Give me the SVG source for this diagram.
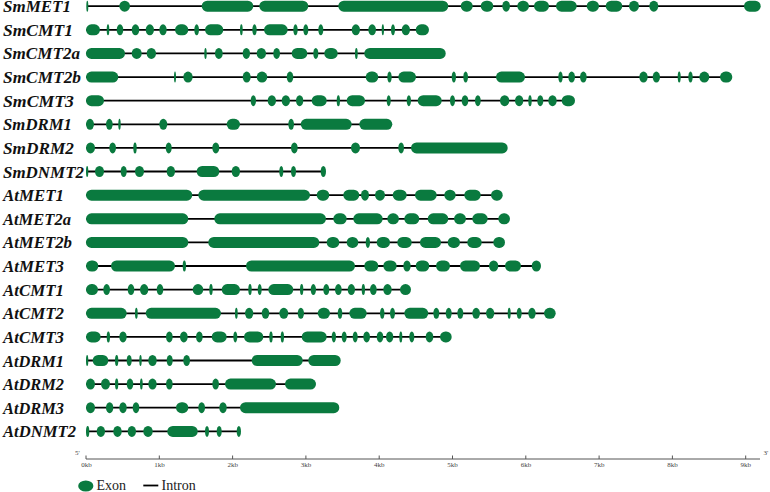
<svg xmlns="http://www.w3.org/2000/svg" width="770" height="492" viewBox="0 0 770 492">
<style>
.lab{font-family:"Liberation Serif","Times New Roman",serif;font-weight:bold;font-style:italic;font-size:17px;fill:#111}
.e{fill:#0a7a3f;rx:5.5px;ry:5.5px}
.in{stroke:#000;stroke-width:1.8;fill:none}
.ax{stroke:#555;stroke-width:1;fill:none}
.tk{font-family:"Liberation Serif","Times New Roman",serif;font-size:7px;fill:#444;text-anchor:middle}
.lg{font-family:"Liberation Serif","Times New Roman",serif;font-size:14px;fill:#222}
</style>
<rect width="770" height="492" fill="#fff"/>
<g id="introns">
<line class="in" x1="87" y1="6.2" x2="760" y2="6.2"/>
<line class="in" x1="86" y1="29.8" x2="428" y2="29.8"/>
<line class="in" x1="86" y1="53.4" x2="445" y2="53.4"/>
<line class="in" x1="86" y1="77.1" x2="731" y2="77.1"/>
<line class="in" x1="86" y1="100.7" x2="574" y2="100.7"/>
<line class="in" x1="86" y1="124.3" x2="391" y2="124.3"/>
<line class="in" x1="86" y1="147.9" x2="507" y2="147.9"/>
<line class="in" x1="86" y1="171.5" x2="325" y2="171.5"/>
<line class="in" x1="86" y1="195.2" x2="502" y2="195.2"/>
<line class="in" x1="86" y1="218.8" x2="509" y2="218.8"/>
<line class="in" x1="86" y1="242.4" x2="504" y2="242.4"/>
<line class="in" x1="86" y1="266" x2="540" y2="266"/>
<line class="in" x1="86" y1="289.6" x2="410" y2="289.6"/>
<line class="in" x1="86" y1="313.3" x2="555" y2="313.3"/>
<line class="in" x1="86" y1="336.9" x2="451" y2="336.9"/>
<line class="in" x1="86" y1="360.5" x2="340" y2="360.5"/>
<line class="in" x1="86" y1="384.1" x2="315" y2="384.1"/>
<line class="in" x1="86" y1="407.7" x2="339" y2="407.7"/>
<line class="in" x1="86" y1="431.4" x2="240" y2="431.4"/>
</g>
<g id="SmMET1" transform="translate(0,6.2)">
<text class="lab" x="3" y="6" textLength="68" lengthAdjust="spacingAndGlyphs">SmMET1</text>
<rect class="e" x="86.3" y="-5.5" width="2" height="11"/><rect class="e" x="119.3" y="-5.5" width="10.7" height="11"/><rect class="e" x="201.7" y="-5.5" width="51.6" height="11"/><rect class="e" x="259.3" y="-5.5" width="49" height="11"/><rect class="e" x="338.3" y="-5.5" width="110" height="11"/><rect class="e" x="460.7" y="-5.5" width="12" height="11"/><rect class="e" x="480.7" y="-5.5" width="12.6" height="11"/><rect class="e" x="502.3" y="-5.5" width="7.7" height="11"/><rect class="e" x="517.3" y="-5.5" width="11.7" height="11"/><rect class="e" x="534" y="-5.5" width="15" height="11"/><rect class="e" x="556" y="-5.5" width="20.7" height="11"/><rect class="e" x="586.7" y="-5.5" width="12.3" height="11"/><rect class="e" x="605.7" y="-5.5" width="16.6" height="11"/><rect class="e" x="629" y="-5.5" width="10" height="11"/><rect class="e" x="649.3" y="-5.5" width="9" height="11"/><rect class="e" x="744" y="-5.5" width="16.7" height="11"/>
</g>
<g id="SmCMT1" transform="translate(0,29.8)">
<text class="lab" x="3" y="6" textLength="70" lengthAdjust="spacingAndGlyphs">SmCMT1</text>
<rect class="e" x="86" y="-5.5" width="14" height="11"/><rect class="e" x="106.7" y="-5.5" width="2.6" height="11"/><rect class="e" x="116.7" y="-5.5" width="6.6" height="11"/><rect class="e" x="131.7" y="-5.5" width="7.6" height="11"/><rect class="e" x="145.7" y="-5.5" width="8.3" height="11"/><rect class="e" x="159.3" y="-5.5" width="7.4" height="11"/><rect class="e" x="175" y="-5.5" width="13.3" height="11"/><rect class="e" x="194.3" y="-5.5" width="4.7" height="11"/><rect class="e" x="205" y="-5.5" width="18.3" height="11"/><rect class="e" x="240" y="-5.5" width="2.7" height="11"/><rect class="e" x="252.3" y="-5.5" width="4.4" height="11"/><rect class="e" x="264" y="-5.5" width="23.7" height="11"/><rect class="e" x="293.3" y="-5.5" width="4.4" height="11"/><rect class="e" x="303.3" y="-5.5" width="5" height="11"/><rect class="e" x="318.3" y="-5.5" width="5" height="11"/><rect class="e" x="351.7" y="-5.5" width="8.3" height="11"/><rect class="e" x="368.3" y="-5.5" width="7.7" height="11"/><rect class="e" x="381.7" y="-5.5" width="2.3" height="11"/><rect class="e" x="391" y="-5.5" width="4" height="11"/><rect class="e" x="401.7" y="-5.5" width="8.3" height="11"/><rect class="e" x="415.7" y="-5.5" width="13.3" height="11"/>
</g>
<g id="SmCMT2a" transform="translate(0,53.4)">
<text class="lab" x="3" y="6" textLength="77" lengthAdjust="spacingAndGlyphs">SmCMT2a</text>
<rect class="e" x="86" y="-5.5" width="39" height="11"/><rect class="e" x="131.7" y="-5.5" width="10" height="11"/><rect class="e" x="146.7" y="-5.5" width="9.3" height="11"/><rect class="e" x="204.3" y="-5.5" width="2.4" height="11"/><rect class="e" x="215" y="-5.5" width="7.7" height="11"/><rect class="e" x="242.7" y="-5.5" width="7.3" height="11"/><rect class="e" x="256.7" y="-5.5" width="9.3" height="11"/><rect class="e" x="273.3" y="-5.5" width="6.7" height="11"/><rect class="e" x="291.7" y="-5.5" width="15.6" height="11"/><rect class="e" x="313.3" y="-5.5" width="5" height="11"/><rect class="e" x="324.3" y="-5.5" width="13.4" height="11"/><rect class="e" x="355" y="-5.5" width="2.7" height="11"/><rect class="e" x="364.3" y="-5.5" width="81.4" height="11"/>
</g>
<g id="SmCMT2b" transform="translate(0,77.1)">
<text class="lab" x="3" y="6" textLength="78" lengthAdjust="spacingAndGlyphs">SmCMT2b</text>
<rect class="e" x="86" y="-5.5" width="32.3" height="11"/><rect class="e" x="174" y="-5.5" width="2" height="11"/><rect class="e" x="183.3" y="-5.5" width="9.4" height="11"/><rect class="e" x="242.7" y="-5.5" width="8" height="11"/><rect class="e" x="256.7" y="-5.5" width="10.6" height="11"/><rect class="e" x="286.7" y="-5.5" width="6.6" height="11"/><rect class="e" x="365.7" y="-5.5" width="12.6" height="11"/><rect class="e" x="387.3" y="-5.5" width="4.4" height="11"/><rect class="e" x="398.3" y="-5.5" width="17.7" height="11"/><rect class="e" x="451.7" y="-5.5" width="4.3" height="11"/><rect class="e" x="463.3" y="-5.5" width="4.7" height="11"/><rect class="e" x="496" y="-5.5" width="29" height="11"/><rect class="e" x="558.3" y="-5.5" width="4.4" height="11"/><rect class="e" x="568.3" y="-5.5" width="6.7" height="11"/><rect class="e" x="580" y="-5.5" width="6.7" height="11"/><rect class="e" x="639.3" y="-5.5" width="8.4" height="11"/><rect class="e" x="652.7" y="-5.5" width="7.3" height="11"/><rect class="e" x="677.7" y="-5.5" width="3" height="11"/><rect class="e" x="688.3" y="-5.5" width="4.4" height="11"/><rect class="e" x="699.3" y="-5.5" width="10" height="11"/><rect class="e" x="720" y="-5.5" width="12.3" height="11"/>
</g>
<g id="SmCMT3" transform="translate(0,100.7)">
<text class="lab" x="3" y="6" textLength="71" lengthAdjust="spacingAndGlyphs">SmCMT3</text>
<rect class="e" x="86" y="-5.5" width="18" height="11"/><rect class="e" x="250.7" y="-5.5" width="5.3" height="11"/><rect class="e" x="267.7" y="-5.5" width="8.3" height="11"/><rect class="e" x="281.7" y="-5.5" width="8.3" height="11"/><rect class="e" x="296" y="-5.5" width="7.3" height="11"/><rect class="e" x="311.7" y="-5.5" width="15" height="11"/><rect class="e" x="336.7" y="-5.5" width="3.3" height="11"/><rect class="e" x="346.7" y="-5.5" width="18.3" height="11"/><rect class="e" x="386.7" y="-5.5" width="4" height="11"/><rect class="e" x="406.7" y="-5.5" width="4.3" height="11"/><rect class="e" x="417.7" y="-5.5" width="24" height="11"/><rect class="e" x="450" y="-5.5" width="5" height="11"/><rect class="e" x="461.7" y="-5.5" width="6.6" height="11"/><rect class="e" x="475" y="-5.5" width="5.7" height="11"/><rect class="e" x="500" y="-5.5" width="9.3" height="11"/><rect class="e" x="515" y="-5.5" width="8.3" height="11"/><rect class="e" x="528.3" y="-5.5" width="3.4" height="11"/><rect class="e" x="537.3" y="-5.5" width="6" height="11"/><rect class="e" x="548.3" y="-5.5" width="8.4" height="11"/><rect class="e" x="561.7" y="-5.5" width="13.3" height="11"/>
</g>
<g id="SmDRM1" transform="translate(0,124.3)">
<text class="lab" x="3" y="6" textLength="69" lengthAdjust="spacingAndGlyphs">SmDRM1</text>
<rect class="e" x="86" y="-5.5" width="8" height="11"/><rect class="e" x="106" y="-5.5" width="6.7" height="11"/><rect class="e" x="118.3" y="-5.5" width="2.4" height="11"/><rect class="e" x="159.3" y="-5.5" width="8" height="11"/><rect class="e" x="226.7" y="-5.5" width="13.3" height="11"/><rect class="e" x="288.3" y="-5.5" width="5.7" height="11"/><rect class="e" x="300.7" y="-5.5" width="51" height="11"/><rect class="e" x="359.3" y="-5.5" width="33" height="11"/>
</g>
<g id="SmDRM2" transform="translate(0,147.9)">
<text class="lab" x="3" y="6" textLength="71" lengthAdjust="spacingAndGlyphs">SmDRM2</text>
<rect class="e" x="86" y="-5.5" width="9" height="11"/><rect class="e" x="109.3" y="-5.5" width="6.7" height="11"/><rect class="e" x="133.3" y="-5.5" width="3.4" height="11"/><rect class="e" x="165.7" y="-5.5" width="6" height="11"/><rect class="e" x="212.3" y="-5.5" width="7" height="11"/><rect class="e" x="291" y="-5.5" width="6.7" height="11"/><rect class="e" x="351" y="-5.5" width="9" height="11"/><rect class="e" x="398.3" y="-5.5" width="5.7" height="11"/><rect class="e" x="411" y="-5.5" width="96.7" height="11"/>
</g>
<g id="SmDNMT2" transform="translate(0,171.5)">
<text class="lab" x="3" y="6" textLength="81" lengthAdjust="spacingAndGlyphs">SmDNMT2</text>
<rect class="e" x="86" y="-5.5" width="2.3" height="11"/><rect class="e" x="95" y="-5.5" width="9" height="11"/><rect class="e" x="120.7" y="-5.5" width="6" height="11"/><rect class="e" x="135" y="-5.5" width="9" height="11"/><rect class="e" x="166.7" y="-5.5" width="8.3" height="11"/><rect class="e" x="196.7" y="-5.5" width="22.6" height="11"/><rect class="e" x="231.7" y="-5.5" width="8.3" height="11"/><rect class="e" x="279.3" y="-5.5" width="4" height="11"/><rect class="e" x="291" y="-5.5" width="5" height="11"/><rect class="e" x="320.7" y="-5.5" width="5.3" height="11"/>
</g>
<g id="AtMET1" transform="translate(0,195.2)">
<text class="lab" x="3" y="6" textLength="61" lengthAdjust="spacingAndGlyphs">AtMET1</text>
<rect class="e" x="86" y="-5.5" width="106.3" height="11"/><rect class="e" x="198.3" y="-5.5" width="111.7" height="11"/><rect class="e" x="316.7" y="-5.5" width="12.6" height="11"/><rect class="e" x="343.3" y="-5.5" width="16" height="11"/><rect class="e" x="361" y="-5.5" width="8" height="11"/><rect class="e" x="375" y="-5.5" width="10" height="11"/><rect class="e" x="392.7" y="-5.5" width="14" height="11"/><rect class="e" x="415" y="-5.5" width="21.7" height="11"/><rect class="e" x="444.3" y="-5.5" width="11.4" height="11"/><rect class="e" x="464.3" y="-5.5" width="16.4" height="11"/><rect class="e" x="491" y="-5.5" width="11.7" height="11"/>
</g>
<g id="AtMET2a" transform="translate(0,218.8)">
<text class="lab" x="3" y="6" textLength="68" lengthAdjust="spacingAndGlyphs">AtMET2a</text>
<rect class="e" x="86" y="-5.5" width="102.3" height="11"/><rect class="e" x="214.3" y="-5.5" width="111.7" height="11"/><rect class="e" x="333.3" y="-5.5" width="13.4" height="11"/><rect class="e" x="353.3" y="-5.5" width="29.4" height="11"/><rect class="e" x="387.3" y="-5.5" width="11.7" height="11"/><rect class="e" x="404.3" y="-5.5" width="15" height="11"/><rect class="e" x="427.7" y="-5.5" width="20.6" height="11"/><rect class="e" x="454" y="-5.5" width="12" height="11"/><rect class="e" x="472.3" y="-5.5" width="15.4" height="11"/><rect class="e" x="498.3" y="-5.5" width="11.7" height="11"/>
</g>
<g id="AtMET2b" transform="translate(0,242.4)">
<text class="lab" x="3" y="6" textLength="69" lengthAdjust="spacingAndGlyphs">AtMET2b</text>
<rect class="e" x="86" y="-5.5" width="102.3" height="11"/><rect class="e" x="208.3" y="-5.5" width="111" height="11"/><rect class="e" x="326.7" y="-5.5" width="12.6" height="11"/><rect class="e" x="346.7" y="-5.5" width="11.6" height="11"/><rect class="e" x="365.7" y="-5.5" width="4.3" height="11"/><rect class="e" x="376.7" y="-5.5" width="13.3" height="11"/><rect class="e" x="397.3" y="-5.5" width="14.4" height="11"/><rect class="e" x="420" y="-5.5" width="21" height="11"/><rect class="e" x="447.7" y="-5.5" width="12.3" height="11"/><rect class="e" x="467.3" y="-5.5" width="14.4" height="11"/><rect class="e" x="493.3" y="-5.5" width="11.7" height="11"/>
</g>
<g id="AtMET3" transform="translate(0,266)">
<text class="lab" x="3" y="6" textLength="61" lengthAdjust="spacingAndGlyphs">AtMET3</text>
<rect class="e" x="86" y="-5.5" width="12.3" height="11"/><rect class="e" x="111" y="-5.5" width="64" height="11"/><rect class="e" x="182.7" y="-5.5" width="3.3" height="11"/><rect class="e" x="246" y="-5.5" width="109" height="11"/><rect class="e" x="364.3" y="-5.5" width="14" height="11"/><rect class="e" x="383.3" y="-5.5" width="13.4" height="11"/><rect class="e" x="403.3" y="-5.5" width="7.4" height="11"/><rect class="e" x="415.7" y="-5.5" width="13.6" height="11"/><rect class="e" x="436" y="-5.5" width="14" height="11"/><rect class="e" x="460" y="-5.5" width="20" height="11"/><rect class="e" x="489" y="-5.5" width="9.3" height="11"/><rect class="e" x="505" y="-5.5" width="16" height="11"/><rect class="e" x="531.7" y="-5.5" width="9.3" height="11"/>
</g>
<g id="AtCMT1" transform="translate(0,289.6)">
<text class="lab" x="3" y="6" textLength="61" lengthAdjust="spacingAndGlyphs">AtCMT1</text>
<rect class="e" x="86" y="-5.5" width="12" height="11"/><rect class="e" x="103.3" y="-5.5" width="6.7" height="11"/><rect class="e" x="127.7" y="-5.5" width="6.6" height="11"/><rect class="e" x="140" y="-5.5" width="8.3" height="11"/><rect class="e" x="156.7" y="-5.5" width="6.6" height="11"/><rect class="e" x="192.7" y="-5.5" width="10.6" height="11"/><rect class="e" x="209.3" y="-5.5" width="3.4" height="11"/><rect class="e" x="221.7" y="-5.5" width="18.3" height="11"/><rect class="e" x="248.3" y="-5.5" width="3.4" height="11"/><rect class="e" x="257.7" y="-5.5" width="4" height="11"/><rect class="e" x="268.3" y="-5.5" width="25" height="11"/><rect class="e" x="300" y="-5.5" width="3.3" height="11"/><rect class="e" x="310.7" y="-5.5" width="5.3" height="11"/><rect class="e" x="323.3" y="-5.5" width="6" height="11"/><rect class="e" x="335" y="-5.5" width="6.7" height="11"/><rect class="e" x="347.7" y="-5.5" width="7.3" height="11"/><rect class="e" x="361.7" y="-5.5" width="3.3" height="11"/><rect class="e" x="370" y="-5.5" width="6.7" height="11"/><rect class="e" x="383.3" y="-5.5" width="8.4" height="11"/><rect class="e" x="400" y="-5.5" width="11" height="11"/>
</g>
<g id="AtCMT2" transform="translate(0,313.3)">
<text class="lab" x="3" y="6" textLength="61" lengthAdjust="spacingAndGlyphs">AtCMT2</text>
<rect class="e" x="86" y="-5.5" width="40.7" height="11"/><rect class="e" x="135" y="-5.5" width="2.7" height="11"/><rect class="e" x="145.7" y="-5.5" width="75.3" height="11"/><rect class="e" x="235" y="-5.5" width="2.7" height="11"/><rect class="e" x="245" y="-5.5" width="8.3" height="11"/><rect class="e" x="261.7" y="-5.5" width="7.6" height="11"/><rect class="e" x="279.3" y="-5.5" width="9" height="11"/><rect class="e" x="297.7" y="-5.5" width="6.3" height="11"/><rect class="e" x="317.7" y="-5.5" width="12.3" height="11"/><rect class="e" x="337.7" y="-5.5" width="4.6" height="11"/><rect class="e" x="349.3" y="-5.5" width="17.4" height="11"/><rect class="e" x="380" y="-5.5" width="4.5" height="11"/><rect class="e" x="390" y="-5.5" width="5" height="11"/><rect class="e" x="404.3" y="-5.5" width="24" height="11"/><rect class="e" x="433.3" y="-5.5" width="6" height="11"/><rect class="e" x="445.7" y="-5.5" width="6" height="11"/><rect class="e" x="457.3" y="-5.5" width="6" height="11"/><rect class="e" x="472.3" y="-5.5" width="7.7" height="11"/><rect class="e" x="486" y="-5.5" width="8.3" height="11"/><rect class="e" x="507.7" y="-5.5" width="3" height="11"/><rect class="e" x="516.7" y="-5.5" width="5" height="11"/><rect class="e" x="528.3" y="-5.5" width="7.4" height="11"/><rect class="e" x="544" y="-5.5" width="11.7" height="11"/>
</g>
<g id="AtCMT3" transform="translate(0,336.9)">
<text class="lab" x="3" y="6" textLength="61" lengthAdjust="spacingAndGlyphs">AtCMT3</text>
<rect class="e" x="86" y="-5.5" width="14.7" height="11"/><rect class="e" x="106.7" y="-5.5" width="3.3" height="11"/><rect class="e" x="119.3" y="-5.5" width="7.4" height="11"/><rect class="e" x="166" y="-5.5" width="6.7" height="11"/><rect class="e" x="180" y="-5.5" width="7.7" height="11"/><rect class="e" x="196" y="-5.5" width="6.7" height="11"/><rect class="e" x="211.7" y="-5.5" width="15" height="11"/><rect class="e" x="233.3" y="-5.5" width="4" height="11"/><rect class="e" x="244" y="-5.5" width="19.3" height="11"/><rect class="e" x="269.3" y="-5.5" width="3.4" height="11"/><rect class="e" x="280.7" y="-5.5" width="3.3" height="11"/><rect class="e" x="301.7" y="-5.5" width="25" height="11"/><rect class="e" x="331.7" y="-5.5" width="4.3" height="11"/><rect class="e" x="341.7" y="-5.5" width="5" height="11"/><rect class="e" x="352.7" y="-5.5" width="5" height="11"/><rect class="e" x="363.3" y="-5.5" width="6.7" height="11"/><rect class="e" x="376.7" y="-5.5" width="6.6" height="11"/><rect class="e" x="386" y="-5.5" width="7.3" height="11"/><rect class="e" x="399.3" y="-5.5" width="3" height="11"/><rect class="e" x="409.3" y="-5.5" width="5" height="11"/><rect class="e" x="425.7" y="-5.5" width="7.6" height="11"/><rect class="e" x="440" y="-5.5" width="11.7" height="11"/>
</g>
<g id="AtDRM1" transform="translate(0,360.5)">
<text class="lab" x="3" y="6" textLength="61" lengthAdjust="spacingAndGlyphs">AtDRM1</text>
<rect class="e" x="86" y="-5.5" width="2.3" height="11"/><rect class="e" x="92.7" y="-5.5" width="15.6" height="11"/><rect class="e" x="115" y="-5.5" width="3.3" height="11"/><rect class="e" x="126.7" y="-5.5" width="5" height="11"/><rect class="e" x="139.3" y="-5.5" width="2.4" height="11"/><rect class="e" x="148.3" y="-5.5" width="8.4" height="11"/><rect class="e" x="166.7" y="-5.5" width="6" height="11"/><rect class="e" x="183.3" y="-5.5" width="6.7" height="11"/><rect class="e" x="251.7" y="-5.5" width="51" height="11"/><rect class="e" x="308.3" y="-5.5" width="32.4" height="11"/>
</g>
<g id="AtDRM2" transform="translate(0,384.1)">
<text class="lab" x="3" y="6" textLength="61" lengthAdjust="spacingAndGlyphs">AtDRM2</text>
<rect class="e" x="86" y="-5.5" width="9" height="11"/><rect class="e" x="101" y="-5.5" width="9" height="11"/><rect class="e" x="115" y="-5.5" width="3.3" height="11"/><rect class="e" x="126.7" y="-5.5" width="6.6" height="11"/><rect class="e" x="140" y="-5.5" width="2.7" height="11"/><rect class="e" x="148.3" y="-5.5" width="8.4" height="11"/><rect class="e" x="166" y="-5.5" width="6.7" height="11"/><rect class="e" x="212.3" y="-5.5" width="6.7" height="11"/><rect class="e" x="225" y="-5.5" width="51" height="11"/><rect class="e" x="285" y="-5.5" width="31" height="11"/>
</g>
<g id="AtDRM3" transform="translate(0,407.7)">
<text class="lab" x="3" y="6" textLength="61" lengthAdjust="spacingAndGlyphs">AtDRM3</text>
<rect class="e" x="86" y="-5.5" width="9" height="11"/><rect class="e" x="106" y="-5.5" width="7.3" height="11"/><rect class="e" x="119.3" y="-5.5" width="7.4" height="11"/><rect class="e" x="132.7" y="-5.5" width="6.6" height="11"/><rect class="e" x="176" y="-5.5" width="12.3" height="11"/><rect class="e" x="198.3" y="-5.5" width="6.7" height="11"/><rect class="e" x="219.3" y="-5.5" width="7.4" height="11"/><rect class="e" x="240" y="-5.5" width="99.3" height="11"/>
</g>
<g id="AtDNMT2" transform="translate(0,431.4)">
<text class="lab" x="3" y="6" textLength="73" lengthAdjust="spacingAndGlyphs">AtDNMT2</text>
<rect class="e" x="86" y="-5.5" width="3.3" height="11"/><rect class="e" x="96.7" y="-5.5" width="8.3" height="11"/><rect class="e" x="113.3" y="-5.5" width="8.4" height="11"/><rect class="e" x="127.7" y="-5.5" width="8.3" height="11"/><rect class="e" x="143.3" y="-5.5" width="9.4" height="11"/><rect class="e" x="167.3" y="-5.5" width="30.4" height="11"/><rect class="e" x="205" y="-5.5" width="4" height="11"/><rect class="e" x="216.7" y="-5.5" width="5" height="11"/><rect class="e" x="236.7" y="-5.5" width="4.3" height="11"/>
</g>
<g id="axis">
<line class="ax" x1="86" y1="459" x2="760" y2="459"/>
<path class="ax" d="M86,455.5V459M159.3,455.5V459M232.6,455.5V459M305.9,455.5V459M379.2,455.5V459M452.5,455.5V459M525.8,455.5V459M599.1,455.5V459M672.4,455.5V459M745.7,455.5V459"/>
<text class="tk" x="77.5" y="455">5'</text>
<text class="tk" x="766" y="455">3'</text>
<text class="tk" x="86.5" y="467">0kb</text>
<text class="tk" x="159.5" y="467">1kb</text>
<text class="tk" x="232.8" y="467">2kb</text>
<text class="tk" x="306" y="467">3kb</text>
<text class="tk" x="379.3" y="467">4kb</text>
<text class="tk" x="452.6" y="467">5kb</text>
<text class="tk" x="525.9" y="467">6kb</text>
<text class="tk" x="599.2" y="467">7kb</text>
<text class="tk" x="672.5" y="467">8kb</text>
<text class="tk" x="745.8" y="467">9kb</text>
</g>
<g id="legend">
<ellipse cx="85.8" cy="486" rx="7.6" ry="5.6" fill="#0a7a3f"/>
<text class="lg" x="96.5" y="490">Exon</text>
<line x1="143.3" y1="485.5" x2="158.3" y2="485.5" stroke="#000" stroke-width="1.8"/>
<text class="lg" x="161.5" y="490">Intron</text>
</g>
</svg>
